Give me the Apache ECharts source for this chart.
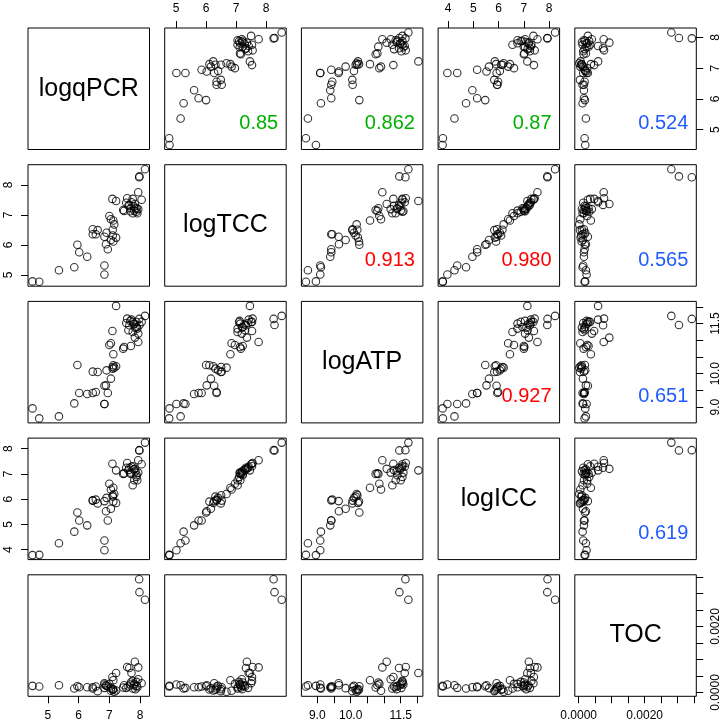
<!DOCTYPE html>
<html>
<head>
<meta charset="utf-8">
<script src="https://cdn.jsdelivr.net/npm/echarts@6/dist/echarts.min.js"></script>
<style>
html,body{margin:0;padding:0;background:#fff;}
#chart{width:724px;height:724px;}
#err{position:absolute;left:0;top:0;width:724px;font:11px monospace;white-space:pre-wrap;color:#000;}
</style>
</head>
<body>
<div id="chart"></div>
<div id="err"></div>
<script>
var varNames = ['logqPCR', 'logTCC', 'logATP', 'logICC', 'TOC'];
var logqPCR = [4.50,4.72,5.36,5.86,5.96,6.02,6.28,6.84,6.84,6.89,6.95,6.46,6.46,6.56,6.62,6.84,6.91,7.00,7.05,7.13,7.16,7.11,7.11,7.22,7.05,7.13,7.10,7.22,7.45,7.48,7.58,7.65,7.70,7.76,7.83,7.89,7.76,7.81,7.91,7.94,7.94,8.05,7.97,7.98,8.16,7.62,7.72,7.80,7.85,7.88,7.55,7.68];
var logTCC  = [4.78,4.77,5.15,5.25,6.00,5.75,5.60,5.31,5.01,6.02,5.85,6.52,6.35,6.35,6.49,6.27,6.40,6.96,6.85,6.81,6.68,6.50,6.31,6.24,6.16,6.11,7.53,7.46,7.16,7.13,7.55,7.33,7.22,7.53,7.36,7.22,7.05,7.14,7.05,7.19,7.75,7.50,8.25,8.28,8.52,7.30,7.42,7.28,7.20,7.10,7.40,7.12];
var logATP  = [8.96,8.66,8.72,9.11,10.26,9.42,9.39,9.09,9.09,9.65,9.42,10.06,9.42,9.45,10.05,9.64,10.10,10.86,10.91,10.58,10.18,10.20,10.15,10.22,9.85,10.25,11.28,12.03,10.75,10.80,11.65,11.45,10.83,11.55,11.08,11.40,11.25,11.50,11.35,11.20,10.95,11.55,11.64,11.46,11.73,11.30,11.62,11.48,11.38,11.55,11.52,11.58];
var logICC  = [3.78,3.79,4.25,4.71,5.47,5.15,4.96,4.36,3.97,5.52,5.15,5.94,5.95,5.98,5.83,5.92,6.05,6.61,6.38,6.45,6.20,6.15,6.10,5.85,5.62,5.90,7.40,7.14,7.00,7.02,7.43,7.24,7.00,7.30,7.20,6.95,6.55,6.75,6.75,7.05,7.54,7.38,7.94,7.93,8.24,7.15,7.28,7.18,7.10,6.88,7.24,7.05];
var TOC     = [0.00020,0.00018,0.00022,0.00012,0.00019,0.00016,0.00016,0.00014,0.00024,0.00022,0.00018,0.00016,0.00012,0.00018,0.00004,0.00028,0.00020,0.00026,0.00005,0.00037,0.00002,0.00010,0.00008,0.00006,0.00013,0.00009,0.00047,0.00059,0.00015,0.00022,0.00077,0.00074,0.00030,0.00035,0.00093,0.00020,0.00012,0.00026,0.00016,0.00040,0.00076,0.00028,0.00343,0.00304,0.00281,0.00018,0.00059,0.00022,0.00010,0.00032,0.00014,0.00024];

var qPCRTicks = [5,6,7,8];
var TCCTicks  = [5,6,7,8];
var ATPTicks  = [9,9.5,10,10.5,11,11.5,12];
var ICCTicks  = [4,5,6,7,8];
var TOCTicks  = [0,0.0005,0.001,0.0015,0.002,0.0025,0.003,0.0035];
var qPCRLabels = [5,6,7,8];
var TCCLabels  = [5,6,7,8];
var ATPLabels  = [9,10,11.5];
var ICCLabels  = [4,5,6,7,8];
var TOCLabels  = [0,0.002];
var labelDigits = [0,0,1,0,4];

var corrText  = ['0.85','0.862','0.87','0.524','0.913','0.980','0.565','0.927','0.651','0.619'];
var corrColor = ['#00B000','#00B000','#00B000','#1F5BFF','#FF0000','#FF0000','#1F5BFF','#FF0000','#1F5BFF','#1F5BFF'];

var vars = [logqPCR, logTCC, logATP, logICC, TOC];
var ticks = [qPCRTicks, TCCTicks, ATPTicks, ICCTicks, TOCTicks];
var labels = [qPCRLabels, TCCLabels, ATPLabels, ICCLabels, TOCLabels];

// R-style 4% range extension
var lims = vars.map(function (a) {
  var mn = Math.min.apply(null, a), mx = Math.max.apply(null, a);
  var e = 0.04 * (mx - mn);
  return [mn - e, mx + e];
});

var N = 5, ORG = 28, STEP = 136.7, P = 121.5;
var FONT = 'Liberation Sans';

function build() {
  var grids = [], xAxes = [], yAxes = [], series = [], graphics = [];
  var ci = 0;
  function axisCfg(k, j, type, pos) {
    var show = !!pos;
    var d = labelDigits[j];
    var cfg = {
      gridIndex: k, type: 'value', min: lims[j][0], max: lims[j][1],
      splitLine: {show: false},
      axisLine: {show: false, onZero: false},
      axisTick: {show: show, inside: false, length: 7, lineStyle: {color: '#000', width: 1}},
      axisLabel: {
        show: show, color: '#000', fontSize: 12, fontFamily: FONT, margin: 13,
        hideOverlap: false,
        formatter: function (v) { return Number(v).toFixed(d); }
      }
    };
    if (show) {
      cfg.axisTick.customValues = ticks[j].slice();
      cfg.axisLabel.customValues = labels[j].slice();
      cfg.position = pos;
      if (type === 'y') { cfg.axisLabel.rotate = 90; }
    }
    return cfg;
  }
  for (var r = 0; r < N; r++) {
    for (var c = 0; c < N; c++) {
      var k = r * N + c;
      var left = ORG + c * STEP, top = ORG + r * STEP;
      grids.push({left: left, top: top, width: P, height: P, show: true,
        borderColor: '#000', borderWidth: 1});
      var xpos = null, ypos = null;
      if (r === 0 && (c === 1 || c === 3)) xpos = 'top';
      if (r === N - 1 && (c === 0 || c === 2 || c === 4)) xpos = 'bottom';
      if (c === 0 && (r === 1 || r === 3)) ypos = 'left';
      if (c === N - 1 && (r === 0 || r === 2 || r === 4)) ypos = 'right';
      xAxes.push(axisCfg(k, c, 'x', xpos));
      yAxes.push(axisCfg(k, r, 'y', ypos));
      if (r === c) {
        graphics.push({type: 'text', x: left + P / 2, y: top + P / 2,
          style: {text: varNames[r], fontSize: 25, fontFamily: FONT, fill: '#000',
            align: 'center', verticalAlign: 'middle'}});
      } else {
        var xs = vars[c], ys = vars[r];
        var pts = [];
        for (var i = 0; i < xs.length; i++) pts.push([xs[i], ys[i]]);
        series.push({
          type: 'scatter', xAxisIndex: k, yAxisIndex: k,
          data: pts,
          symbol: 'circle', symbolSize: 7.5,
          itemStyle: {color: 'rgba(0,0,0,0)', borderColor: '#000', borderWidth: 1.1},
          silent: true
        });
        if (c > r) {
          graphics.push({type: 'text', x: left + P - 8, y: top + P - 26,
            style: {text: corrText[ci], fontSize: 20, fontFamily: FONT, fill: corrColor[ci],
              align: 'right', verticalAlign: 'middle'}});
          ci++;
        }
      }
    }
  }
  return {animation: false, backgroundColor: '#fff', grid: grids, xAxis: xAxes, yAxis: yAxes,
    series: series, graphic: {elements: graphics}};
}

var chart = echarts.init(document.getElementById('chart'));
try {
  chart.setOption(build());
} catch (e) {
  document.getElementById('err').textContent = e.message + '\n' + (e.stack || '').slice(0, 600);
}
</script>
</body>
</html>
